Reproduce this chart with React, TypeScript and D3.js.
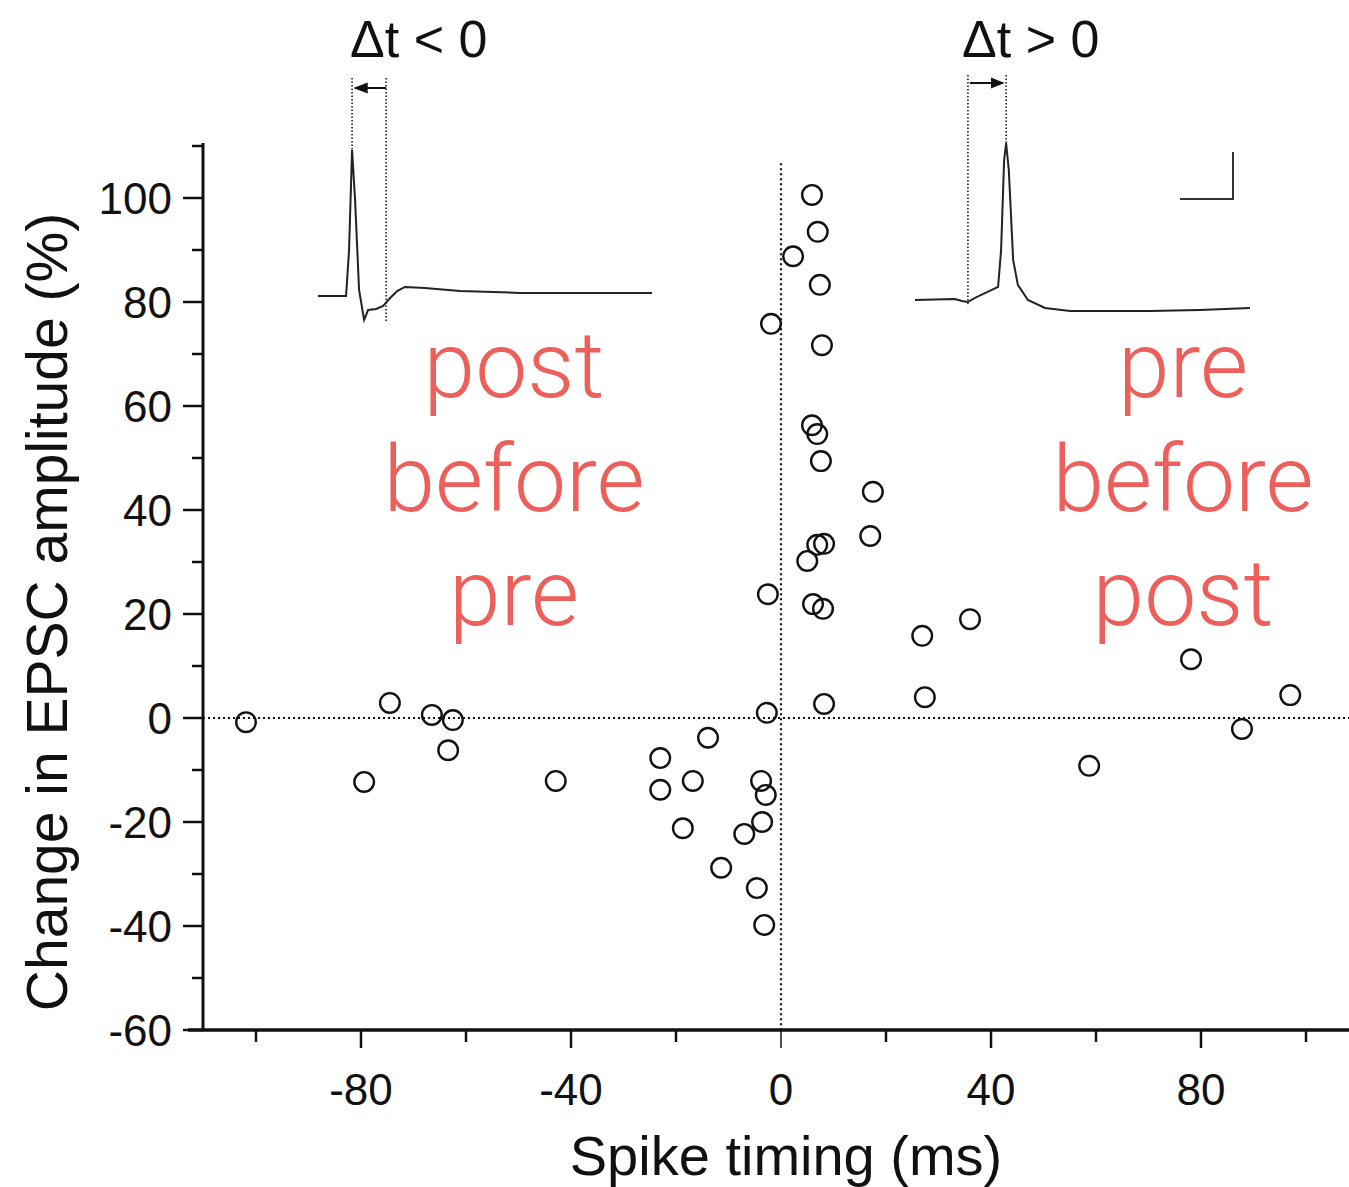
import * as d3 from 'd3'

// spike timing (ms) and change in EPSC amplitude (%)
const spikeTiming = [
  -101.9, -79.4, -74.5, -66.5, -62.5, -63.4, -42.9, -23.0, -23.0, -16.8, -13.9,
  -18.7, -11.4, -7.0, -3.8, -2.9, -3.6, -4.6, -3.2, -2.7, -2.5, -1.9,
  5.9, 7.0, 2.3, 7.4, 7.8, 5.9, 6.9, 7.6, 17.5, 17.0, 8.2, 6.9, 5.0, 6.1, 8.0,
  8.2, 26.9, 27.4, 36.0, 58.7, 78.1, 87.8, 97.0,
]
const epscChange = [
  -0.8, -12.3, 2.9, 0.6, -0.4, -6.2, -12.1, -7.7, -13.8, -12.1, -3.8,
  -21.2, -28.8, -22.3, -12.1, -14.8, -20.0, -32.7, -39.8, 1.0, 23.8, 75.8,
  100.6, 93.5, 88.8, 83.3, 71.7, 56.3, 54.6, 49.4, 43.5, 35.0, 33.5, 33.3, 30.2, 21.9, 21.0,
  2.7, 15.8, 4.0, 19.0, -9.2, 11.3, -2.1, 4.4,
]

const xTicks = [-80, -40, 0, 40, 80]
const xMinorTicks = [-100, -60, -20, 20, 60, 100]
const yTicks = [-60, -40, -20, 0, 20, 40, 60, 80, 100]
const yMinorTicks = [-50, -30, -10, 10, 30, 50, 70, 90, 110]

const leftLabel = ['post', 'before', 'pre']
const rightLabel = ['pre', 'before', 'post']

// inset recordings (time 0-100, voltage in arbitrary units, peak = 100)
const preTraceT = [0, 8.4, 9.3, 10.2, 11.1, 12.3, 13.8, 15, 17.4, 19.5, 21.6, 23.7, 26, 32, 42.5, 60.5, 100]
const preTraceV = [0, 0, 31.5, 100, 65.8, 4.1, -16.4, -9.6, -8.9, -6.8, -1.4, 3.4, 6.2, 5.5, 3.4, 2.1, 2.1]
const postTraceT = [0, 11.9, 14, 15.8, 17.9, 24.8, 25.7, 26.6, 27.2, 28, 29.3, 30.7, 33.7, 38.8, 46.3, 70.1, 85, 100]
const postTraceV = [0, 0.6, -0.6, -1.3, 1.3, 8.3, 31.8, 89, 100, 82.8, 25.5, 9.6, 0, -5.1, -7, -7, -6.4, -5.1]

const W = 1349
const H = 1187
const RED = '#ec5f5a'
const tickFont = '"Liberation Sans", Arial, sans-serif'
const noteFont = 'Roboto, Lato, sans-serif'

export default function App() {
  const x = d3.scaleLinear().domain([-80, 80]).range([361, 1201])
  const y = d3.scaleLinear().domain([-60, 100]).range([1030, 198])
  const axisX = 203
  const axisY = y(-60)

  const leftInsetX = d3.scaleLinear().domain([0, 100]).range([318, 652])
  const leftInsetY = d3.scaleLinear().domain([0, 100]).range([296, 150])
  const rightInsetX = d3.scaleLinear().domain([0, 100]).range([915, 1250])
  const rightInsetY = d3.scaleLinear().domain([0, 100]).range([300, 143])

  const leftLine = d3.line<number>()
    .x((_, i) => leftInsetX(preTraceT[i]))
    .y((d) => leftInsetY(d))
  const rightLine = d3.line<number>()
    .x((_, i) => rightInsetX(postTraceT[i]))
    .y((d) => rightInsetY(d))

  const lPeak = leftInsetX(10.2)
  const lEnd = leftInsetX(20.4)
  const rStart = rightInsetX(15.8)
  const rPeak = rightInsetX(27.2)

  return (
    <svg width={W} height={H} style={{ position: 'absolute', left: 0, top: 0, background: '#fff' }}>
      <defs>
        <marker id="arr" viewBox="0 0 10 10" refX="9" refY="5" markerWidth="7" markerHeight="7" orient="auto-start-reverse">
          <path d="M0,1 L10,5 L0,9 z" fill="#111" />
        </marker>
      </defs>

      {/* reference lines */}
      <line x1={axisX} x2={W} y1={y(0)} y2={y(0)} stroke="#111" strokeWidth={2.2} strokeDasharray="2,3" />
      <line x1={x(0)} x2={x(0)} y1={y(106.7)} y2={axisY} stroke="#111" strokeWidth={2.2} strokeDasharray="2,3" />

      {/* y axis */}
      <line x1={axisX} x2={axisX} y1={143} y2={axisY + 1} stroke="#111" strokeWidth={3} />
      {yTicks.map((t) => (
        <g key={'y' + t}>
          <line x1={axisX - 20} x2={axisX} y1={y(t)} y2={y(t)} stroke="#111" strokeWidth={2.5} />
          <text x={172} y={y(t)} dy="0.36em" textAnchor="end" fontFamily={tickFont} fontSize={44} fill="#111">{t}</text>
        </g>
      ))}
      {yMinorTicks.map((t) => (
        <line key={'ym' + t} x1={axisX - 11} x2={axisX} y1={y(t)} y2={y(t)} stroke="#111" strokeWidth={2.5} />
      ))}

      {/* x axis */}
      <line x1={188} x2={W} y1={axisY} y2={axisY} stroke="#111" strokeWidth={3.5} />
      {xTicks.map((t) => (
        <g key={'x' + t}>
          <line x1={x(t)} x2={x(t)} y1={axisY} y2={axisY + 18} stroke="#111" strokeWidth={t === 0 ? 1.5 : 2.5} />
          <text x={x(t)} y={1105} textAnchor="middle" fontFamily={tickFont} fontSize={44} fill="#111">{t}</text>
        </g>
      ))}
      {xMinorTicks.map((t) => (
        <line key={'xm' + t} x1={x(t)} x2={x(t)} y1={axisY} y2={axisY + 12} stroke="#111" strokeWidth={2.5} />
      ))}

      {/* axis titles */}
      <text x={786} y={1175} textAnchor="middle" fontFamily={tickFont} fontSize={56} fill="#111">Spike timing (ms)</text>
      <text transform={`translate(67,${612}) rotate(-90)`} textAnchor="middle" fontFamily={tickFont} fontSize={57} fill="#111">
        Change in EPSC amplitude (%)
      </text>

      {/* data */}
      {spikeTiming.map((t, i) => (
        <circle key={i} cx={x(t)} cy={y(epscChange[i])} r={9.8} fill="none" stroke="#111" strokeWidth={2.4} />
      ))}

      {/* insets */}
      <path d={leftLine(preTraceV) ?? ''} fill="none" stroke="#222" strokeWidth={2} />
      <path d={rightLine(postTraceV) ?? ''} fill="none" stroke="#222" strokeWidth={2} />
      <line x1={lPeak} x2={lPeak} y1={78} y2={leftInsetY(100)} stroke="#222" strokeWidth={1.6} strokeDasharray="1.5,2" />
      <line x1={lEnd} x2={lEnd} y1={78} y2={leftInsetY(-18)} stroke="#222" strokeWidth={1.6} strokeDasharray="1.5,2" />
      <line x1={lEnd} x2={lPeak + 3} y1={88} y2={88} stroke="#111" strokeWidth={2} markerEnd="url(#arr)" />
      <line x1={rStart} x2={rStart} y1={75} y2={rightInsetY(-4)} stroke="#222" strokeWidth={1.6} strokeDasharray="1.5,2" />
      <line x1={rPeak} x2={rPeak} y1={75} y2={rightInsetY(100)} stroke="#222" strokeWidth={1.6} strokeDasharray="1.5,2" />
      <line x1={rStart + 2} x2={rPeak - 3} y1={83} y2={83} stroke="#111" strokeWidth={2} markerEnd="url(#arr)" />
      <text x={350} y={57} fontFamily={tickFont} fontSize={52} fill="#111">Δt &lt; 0</text>
      <text x={962} y={57} fontFamily={tickFont} fontSize={52} fill="#111">Δt &gt; 0</text>
      {/* scale bar */}
      <path d="M1180,199 H1233 V152" fill="none" stroke="#333" strokeWidth={2} />

      {/* annotations */}
      {leftLabel.map((s, i) => (
        <text key={'l' + i} x={514} y={397 + i * 114} textAnchor="middle" fontFamily={noteFont} fontWeight={300} fontSize={93} fill={RED}>{s}</text>
      ))}
      {rightLabel.map((s, i) => (
        <text key={'r' + i} x={1183} y={397 + i * 114} textAnchor="middle" fontFamily={noteFont} fontWeight={300} fontSize={93} fill={RED}>{s}</text>
      ))}
    </svg>
  )
}
